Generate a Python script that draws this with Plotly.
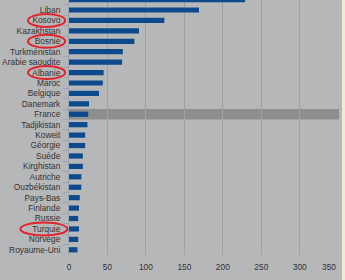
import plotly.graph_objects as go

countries = ["Jordanie", "Liban", "Kosovo", "Kazakhstan", "Bosnie", "Turkménistan",
             "Arabie saoudite", "Albanie", "Maroc", "Belgique", "Danemark", "France",
             "Tadjikistan", "Koweit", "Géorgie", "Suède", "Kirghistan", "Autriche",
             "Ouzbékistan", "Pays-Bas", "Finlande", "Russie", "Turquie", "Norvège",
             "Royaume-Uni"]
values = [229, 169, 124, 91, 85, 70, 69, 45, 44, 39, 26, 25, 24, 21, 21, 18, 18,
          16, 16, 14, 13, 12, 13, 12, 11]
highlighted = ["France"]
circled = ["Kosovo", "Bosnie", "Albanie", "Turquie"]
x_ticks = [0, 50, 100, 150, 200, 250, 300, 350]

BG = "#b6b7b9"
fig = go.Figure(go.Bar(
    y=countries, x=values, orientation="h",
    marker=dict(color="#0c4a8c", line=dict(width=0)),
    width=0.5,
))

shapes = []
# gray canvas over the beige paper (leaves a beige strip at the right edge)
shapes.append(dict(type="rect", xref="paper", yref="paper", x0=-0.3, x1=1.011,
                   y0=-0.2, y1=1.05, fillcolor=BG, line=dict(width=0),
                   layer="below"))
for c in highlighted:
    i = countries.index(c)
    shapes.append(dict(type="rect", xref="paper", yref="y", x0=0, x1=1,
                       y0=i - 0.5, y1=i + 0.5, fillcolor="#8d8e90",
                       line=dict(width=0), layer="below"))
for c in circled:
    i = countries.index(c)
    x0 = -0.18 if c == "Turquie" else -0.152
    x1 = -0.006 if c == "Turquie" else -0.014
    shapes.append(dict(type="circle", xref="paper", yref="y", x0=x0, x1=x1,
                       y0=i - 0.62, y1=i + 0.62, line=dict(color="#e4222b", width=2),
                       layer="above"))

tick_text = [str(v) if v != x_ticks[-1] else "" for v in x_ticks]

fig.update_layout(
    width=345, height=280,
    margin=dict(l=69, r=6, t=0, b=25),
    paper_bgcolor="#eeebd8", plot_bgcolor=BG,
    font=dict(family="Liberation Sans", size=8.4, color="#333333"),
    showlegend=False,
    shapes=shapes,
    annotations=[dict(x=x_ticks[-1], xref="x", y=0, yref="paper",
                      text=str(x_ticks[-1]), showarrow=False, xanchor="right",
                      yanchor="top", yshift=-5,
                      font=dict(family="Liberation Sans", size=8.4, color="#333333"))],
    xaxis=dict(range=[0, 351], tickvals=x_ticks, ticktext=tick_text, showgrid=True,
               gridcolor="#9fa0a2", gridwidth=1, zeroline=False,
               ticks="outside", ticklen=4, tickcolor="rgba(0,0,0,0)", showline=False,
               fixedrange=True),
    yaxis=dict(type="category", categoryorder="array", categoryarray=countries,
               range=[24.5, 0.04], showgrid=False, zeroline=False,
               ticks="outside", tickson="boundaries", ticklen=5,
               tickcolor="#9aa6b4", showline=True, linecolor="#9aa6b4",
               linewidth=1, ticklabelstandoff=6),
)
fig.write_html("out.html")
